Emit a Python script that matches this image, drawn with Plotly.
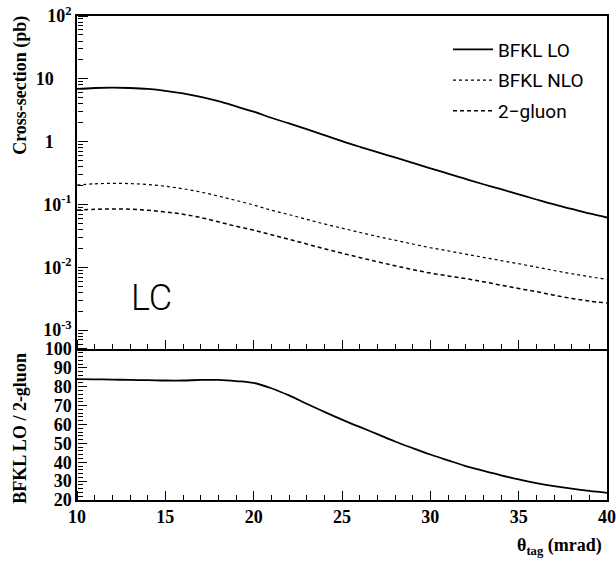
import plotly.graph_objects as go

# ---- data ----
theta = [10, 11, 12, 13, 14, 15, 16, 17, 18, 19, 20, 21, 22, 23, 24, 25,
         26, 27, 28, 29, 30, 31, 32, 33, 34, 35, 36, 37, 38, 39, 40]

bfkl_lo = [6.9, 7.15, 7.25, 7.15, 6.9, 6.45, 5.85, 5.15, 4.4, 3.65, 3.0,
           2.4, 1.95, 1.58, 1.27, 1.02, 0.83, 0.68, 0.56, 0.46, 0.375,
           0.31, 0.255, 0.21, 0.175, 0.145, 0.12, 0.1, 0.085, 0.072, 0.062]

bfkl_nlo = [0.204, 0.213, 0.217, 0.215, 0.208, 0.195, 0.178, 0.158, 0.136,
            0.116, 0.098, 0.081, 0.069, 0.058, 0.049, 0.042, 0.036, 0.031,
            0.027, 0.0235, 0.0205, 0.0183, 0.0162, 0.0144, 0.0128, 0.0114,
            0.0101, 0.0089, 0.0079, 0.0071, 0.0064]

two_gluon = [0.081, 0.084, 0.085, 0.084, 0.081, 0.076, 0.070, 0.062, 0.053,
             0.045, 0.039, 0.033, 0.028, 0.0235, 0.0198, 0.0168, 0.0143,
             0.0123, 0.0106, 0.0092, 0.0081, 0.0073, 0.0066, 0.0059, 0.0052,
             0.0046, 0.0041, 0.0036, 0.0032, 0.0029, 0.0027]

ratio = [84.0, 83.9, 83.8, 83.6, 83.5, 83.3, 83.3, 83.6, 83.6, 83.0, 82.0,
         79.2, 75.4, 71.0, 66.7, 62.6, 58.7, 54.9, 51.0, 47.5, 44.1, 41.0,
         38.0, 35.5, 33.1, 30.9, 29.0, 27.4, 26.0, 24.8, 23.8]

series_names = ["BFKL LO", "BFKL NLO", "2\u2212gluon"]

log_tick_vals = [1e-3, 1e-2, 1e-1, 1, 10, 100]
log_tick_text = ["10<sup>-3</sup>", "10<sup>-2</sup>", "10<sup>-1</sup>",
                 "1\u2003", "10\u2003", "10<sup>2</sup>"]
ratio_tick_vals = [20, 30, 40, 50, 60, 70, 80, 90, 100]

# ---- figure ----
serif = "Liberation Serif, Times New Roman, serif"
sans = "Roboto, Liberation Sans, sans-serif"
tickfont = dict(family=serif, size=18, color="black", weight="bold")

fig = go.Figure()
fig.add_trace(go.Scatter(x=theta, y=bfkl_lo, name=series_names[0], mode="lines",
                         legendgroup="a",
                         line=dict(color="black", width=1.8, shape="spline"),
                         xaxis="x", yaxis="y"))
fig.add_trace(go.Scatter(x=theta, y=bfkl_nlo, name=series_names[1], mode="lines",
                         legendgroup="b",
                         line=dict(color="black", width=1.2, dash="dot", shape="spline"),
                         xaxis="x", yaxis="y"))
fig.add_trace(go.Scatter(x=theta, y=two_gluon, name=series_names[2], mode="lines",
                         legendgroup="c",
                         line=dict(color="black", width=1.5, dash="4px,3px", shape="spline"),
                         xaxis="x", yaxis="y"))
fig.add_trace(go.Scatter(x=theta, y=ratio, mode="lines", showlegend=False,
                         line=dict(color="black", width=1.8, shape="spline"),
                         xaxis="x2", yaxis="y2"))
# invisible carriers so the tick-only overlay axes are drawn
fig.add_trace(go.Scatter(x=theta, y=bfkl_lo, mode="lines", showlegend=False,
                         opacity=0, hoverinfo="skip", line=dict(width=0),
                         xaxis="x3", yaxis="y3"))
fig.add_trace(go.Scatter(x=theta, y=ratio, mode="lines", showlegend=False,
                         opacity=0, hoverinfo="skip", line=dict(width=0),
                         xaxis="x4", yaxis="y4"))

split = 0.312
minor_log = [k * 10.0 ** e for e in range(-4, 2) for k in range(2, 10)]

frame = dict(showline=True, linecolor="black", linewidth=1.5, mirror=True,
             ticks="", showgrid=False, zeroline=False, automargin=False)

tick_x = dict(range=[10, 40], showline=False, ticks="outside", ticklen=9,
              tickwidth=1, tickcolor="black", tickmode="linear", tick0=10,
              dtick=5, showticklabels=False, showgrid=False, zeroline=False,
              automargin=False, side="top", anchor="free",
              minor=dict(ticks="outside", ticklen=5, tickwidth=1,
                         tickcolor="black", tick0=10, dtick=1, showgrid=False))

frame_bottom = dict(frame)
frame_bottom["mirror"] = False

fig.update_layout(
    template="none",
    width=616, height=563,
    margin=dict(l=77, r=9, t=16, b=63, autoexpand=False),
    paper_bgcolor="white", plot_bgcolor="white",
    xaxis=dict(domain=[0, 1], anchor="y", range=[10, 40],
               showticklabels=False, **frame),
    xaxis2=dict(domain=[0, 1], anchor="y2", range=[10, 40],
                tickmode="linear", tick0=10, dtick=5, showticklabels=True,
                tickfont=tickfont, **frame_bottom),
    yaxis=dict(domain=[split, 1], anchor="x", type="log", range=[-3.30, 2],
               tickmode="array", tickvals=log_tick_vals, ticktext=log_tick_text,
               tickfont=tickfont, **frame),
    yaxis2=dict(domain=[0, split], anchor="x2", range=[20, 100],
                tickmode="array", tickvals=ratio_tick_vals,
                tickfont=tickfont, **frame),
    # tick-only axes: outside ticks pointing into the panels
    xaxis3=dict(overlaying="x", position=split, **tick_x),
    xaxis4=dict(overlaying="x2", position=0, **tick_x),
    yaxis3=dict(overlaying="y", side="right", anchor="free", position=0,
                type="log", range=[-3.30, 2], tickmode="array",
                tickvals=log_tick_vals, showticklabels=False, showline=False,
                ticks="outside", ticklen=10, tickwidth=1, tickcolor="black",
                showgrid=False, zeroline=False, automargin=False,
                minor=dict(tickmode="array", tickvals=minor_log, ticks="outside",
                           ticklen=5, tickwidth=1, tickcolor="black", showgrid=False)),
    yaxis4=dict(overlaying="y2", side="right", anchor="free", position=0,
                range=[20, 100], tickmode="array", tickvals=ratio_tick_vals,
                showticklabels=False, showline=False,
                ticks="outside", ticklen=9, tickwidth=1, tickcolor="black",
                showgrid=False, zeroline=False, automargin=False,
                minor=dict(ticks="outside", ticklen=5, tickwidth=1, dtick=2,
                           tickcolor="black", showgrid=False)),
    legend=dict(x=0.70, y=0.97, xanchor="left", yanchor="top",
                bgcolor="rgba(0,0,0,0)", borderwidth=0,
                font=dict(family=sans, size=19, color="black"),
                itemwidth=40, tracegroupgap=3, traceorder="grouped"),
    showlegend=True,
)

fig.add_annotation(text="Cross-section (pb)", xref="paper", yref="paper",
                   x=-0.108, y=1.005, xanchor="center", yanchor="top",
                   textangle=-90, showarrow=False,
                   font=dict(family=serif, size=18, color="black", weight="bold"))
fig.add_annotation(text="BFKL LO / 2-gluon", xref="paper", yref="paper",
                   x=-0.108, y=0.149, xanchor="center", yanchor="middle",
                   textangle=-90, showarrow=False,
                   font=dict(family=serif, size=18, color="black", weight="bold"))
fig.add_annotation(text="\u03b8<sub>tag</sub> (mrad)", xref="paper", yref="paper",
                   x=0.995, y=-0.097, xanchor="right", yanchor="middle",
                   showarrow=False,
                   font=dict(family=serif, size=18, color="black", weight="bold"))
fig.add_annotation(text="LC", xref="paper", yref="paper",
                   x=0.141, y=0.418, xanchor="center", yanchor="middle",
                   showarrow=False,
                   font=dict(family=sans, size=36, color="black", weight=300))

fig.write_html("out.html", config={"displayModeBar": False},
               post_script="document.body.style.margin='0px';")
